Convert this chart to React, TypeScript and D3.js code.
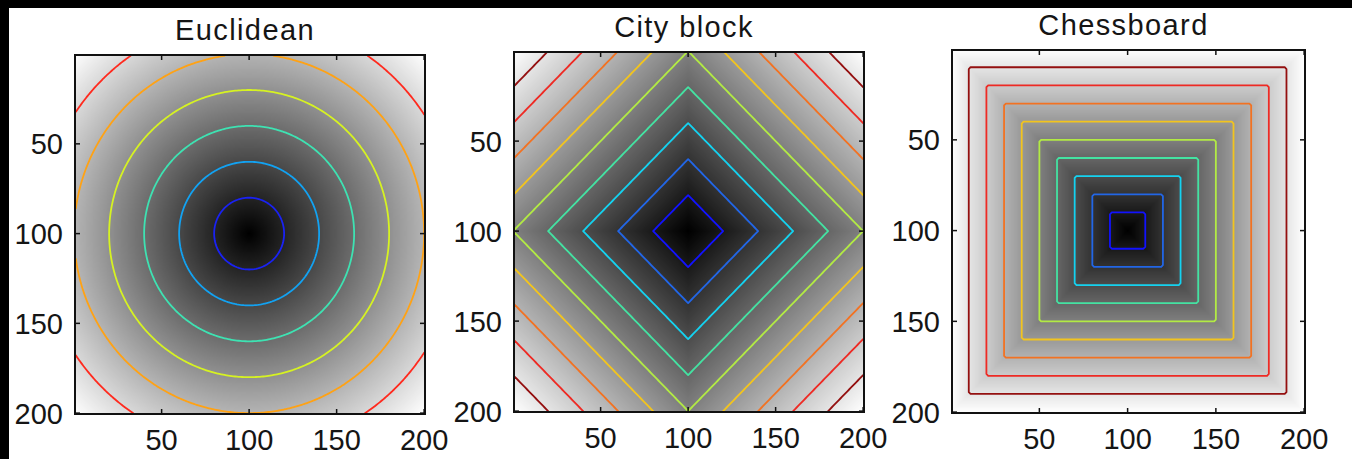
import React, { useMemo } from "react";
import * as d3 from "d3";

// source image: one seed pixel in a 200 x 200 grid, distance transform per metric
const gridSize = 200;
const seedPixel = [100, 100];

const titles = ["Euclidean", "City block", "Chessboard"];
const metrics = ["euclidean", "cityblock", "chessboard"];

const euclideanLevels = [20, 40, 60, 80, 100, 120];
const euclideanColors = ["#1a22f2", "#12a2f2", "#3ee2b2", "#d6f222", "#ffa214", "#ff2a1e"];

const cityblockLevels = [20, 40, 60, 80, 100, 120, 140, 160, 180];
const chessboardLevels = [10, 20, 30, 40, 50, 60, 70, 80, 90];
const ringColors = [
  "#1212ff", "#2266e6", "#14d2f0", "#44e2a2", "#b2ea44",
  "#f2c41e", "#f27222", "#ee2a24", "#941010",
];

const tickValues = [50, 100, 150, 200];

// axes boxes measured in the page
const boxes = [
  { left: 75, top: 55, width: 350, height: 359 },
  { left: 514, top: 52, width: 350, height: 360 },
  { left: 952, top: 50, width: 353, height: 363 },
];

const fontFamily = "'Liberation Sans', Arial, sans-serif";

function distanceGrid(metric: string) {
  const values: number[] = new Array(gridSize * gridSize);
  for (let r = 0; r < gridSize; r++) {
    for (let c = 0; c < gridSize; c++) {
      const dx = Math.abs(c + 1 - seedPixel[0]);
      const dy = Math.abs(r + 1 - seedPixel[1]);
      let d = Math.max(dx, dy);
      if (metric === "euclidean") d = Math.hypot(dx, dy);
      else if (metric === "cityblock") d = dx + dy;
      values[r * gridSize + c] = d;
    }
  }
  return values;
}

function grayImage(values: number[]) {
  const gray = d3.scaleLinear().domain([0, d3.max(values) as number]).range([0, 255]);
  const canvas = document.createElement("canvas");
  canvas.width = gridSize;
  canvas.height = gridSize;
  const ctx = canvas.getContext("2d")!;
  const img = ctx.createImageData(gridSize, gridSize);
  values.forEach((v, i) => {
    const g = Math.round(gray(v));
    img.data[4 * i] = g;
    img.data[4 * i + 1] = g;
    img.data[4 * i + 2] = g;
    img.data[4 * i + 3] = 255;
  });
  ctx.putImageData(img, 0, 0);
  return canvas.toDataURL();
}

const Panel = ({ index }: { index: number }) => {
  const box = boxes[index];
  const metric = metrics[index];
  const levels = index === 0 ? euclideanLevels : index === 1 ? cityblockLevels : chessboardLevels;
  const colors = index === 0 ? euclideanColors : ringColors;

  const x = d3.scaleLinear().domain([0.5, gridSize + 0.5]).range([box.left, box.left + box.width]);
  const y = d3.scaleLinear().domain([0.5, gridSize + 0.5]).range([box.top, box.top + box.height]);

  const { href, rings } = useMemo(() => {
    const values = distanceGrid(metric);
    const rings = d3.contours().size([gridSize, gridSize]).thresholds(levels)(values);
    return { href: grayImage(values), rings };
  }, [metric]);

  const path = d3.geoPath(
    d3.geoTransform({
      point(px: number, py: number) {
        this.stream.point(x(px + 0.5), y(py + 0.5));
      },
    })
  );

  const clipId = `clip-${index}`;
  const tickLen = 5;
  const right = box.left + box.width;
  const bottom = box.top + box.height;

  return (
    <g>
      <defs>
        <clipPath id={clipId}>
          <rect x={box.left} y={box.top} width={box.width} height={box.height} />
        </clipPath>
      </defs>
      <image
        href={href}
        x={box.left}
        y={box.top}
        width={box.width}
        height={box.height}
        preserveAspectRatio="none"
      />
      <g clipPath={`url(#${clipId})`}>
        {rings.map((ring, i) => (
          <path
            key={i}
            d={path(ring as any) || ""}
            fill="none"
            stroke={colors[i]}
            strokeWidth={1.8}
            strokeLinejoin="round"
          />
        ))}
      </g>
      {tickValues.map((t) => (
        <g key={t} stroke="#111" strokeWidth={1.5}>
          <line x1={x(t)} x2={x(t)} y1={bottom} y2={bottom - tickLen} />
          <line x1={x(t)} x2={x(t)} y1={box.top} y2={box.top + tickLen} />
          <line x1={box.left} x2={box.left + tickLen} y1={y(t)} y2={y(t)} />
          <line x1={right} x2={right - tickLen} y1={y(t)} y2={y(t)} />
        </g>
      ))}
      <rect
        x={box.left}
        y={box.top}
        width={box.width}
        height={box.height}
        fill="none"
        stroke="#111"
        strokeWidth={2}
      />
      <g fontFamily={fontFamily} fontSize={29} fill="#151515">
        {tickValues.map((t) => (
          <text key={`y${t}`} x={box.left - 12} y={y(t)} dy="0.36em" textAnchor="end">
            {t}
          </text>
        ))}
        {tickValues.map((t) => (
          <text key={`x${t}`} x={x(t)} y={bottom + 36} textAnchor="middle">
            {t}
          </text>
        ))}
        <text
          x={box.left + box.width / 2 - 5}
          y={box.top - 15}
          textAnchor="middle"
          letterSpacing={1.4}
        >
          {titles[index]}
        </text>
      </g>
    </g>
  );
};

export default function App() {
  const width = 1352;
  const height = 459;
  return (
    <svg
      width={width}
      height={height}
      style={{ position: "absolute", left: 0, top: 0, display: "block" }}
    >
      <rect x={0} y={0} width={width} height={height} fill="#000" />
      <rect x={9} y={8} width={width - 9} height={height - 8} fill="#fff" />
      {titles.map((_, i) => (
        <Panel key={i} index={i} />
      ))}
    </svg>
  );
}
